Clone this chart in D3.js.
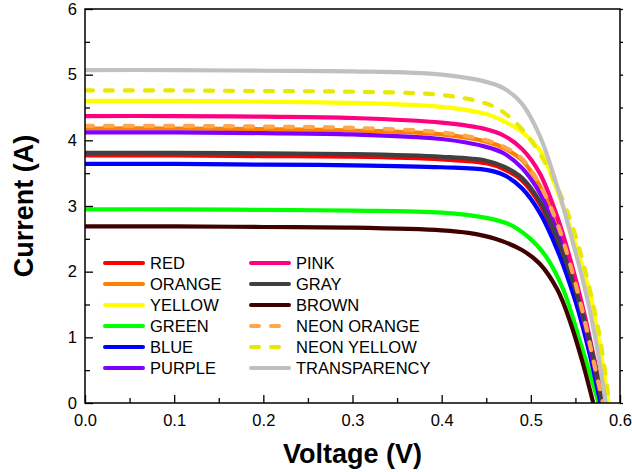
<!DOCTYPE html>
<html>
<head>
<meta charset="utf-8">
<script src="https://cdn.jsdelivr.net/npm/d3@7"></script>
<style>
  body { margin: 0; background: #fff; }
  text { font-family: Arial, "Liberation Sans", sans-serif; }
</style>
</head>
<body>
<div id="chart"></div>
<script>
// I-V curves, [voltage V, current A]
const red          = [[0,3.77],[0.1,3.77],[0.2,3.76],[0.3,3.75],[0.4,3.71],[0.45,3.65],[0.47,3.56],[0.49,3.39],[0.51,3.03],[0.53,2.45],[0.55,1.69],[0.565,0.97],[0.579,0]];
const orange       = [[0,4.18],[0.1,4.18],[0.2,4.17],[0.3,4.15],[0.4,4.09],[0.45,3.98],[0.47,3.88],[0.49,3.70],[0.51,3.31],[0.53,2.70],[0.545,2.05],[0.56,1.25],[0.57,0.64],[0.58,0]];
const yellow       = [[0,4.60],[0.1,4.60],[0.2,4.59],[0.3,4.57],[0.4,4.51],[0.45,4.40],[0.47,4.29],[0.49,4.13],[0.51,3.85],[0.53,3.22],[0.55,2.42],[0.568,1.57],[0.578,0.82],[0.587,0]];
const green        = [[0,2.95],[0.1,2.95],[0.2,2.94],[0.3,2.93],[0.4,2.90],[0.45,2.82],[0.476,2.72],[0.496,2.54],[0.516,2.25],[0.536,1.74],[0.556,0.90],[0.566,0.46],[0.576,0]];
const blue         = [[0,3.64],[0.1,3.64],[0.2,3.63],[0.3,3.62],[0.4,3.59],[0.45,3.55],[0.47,3.47],[0.49,3.27],[0.51,2.90],[0.53,2.32],[0.55,1.55],[0.565,0.80],[0.578,0]];
const purple       = [[0,4.12],[0.1,4.12],[0.2,4.11],[0.3,4.09],[0.4,4.02],[0.45,3.90],[0.47,3.80],[0.49,3.58],[0.51,3.20],[0.53,2.60],[0.545,1.98],[0.56,1.22],[0.57,0.62],[0.58,0]];
const pink         = [[0,4.37],[0.1,4.37],[0.2,4.36],[0.3,4.34],[0.4,4.27],[0.45,4.17],[0.47,4.07],[0.49,3.87],[0.51,3.50],[0.53,2.82],[0.545,2.15],[0.56,1.36],[0.57,0.74],[0.582,0]];
const gray         = [[0,3.81],[0.1,3.81],[0.2,3.80],[0.3,3.79],[0.4,3.75],[0.45,3.69],[0.47,3.60],[0.49,3.43],[0.51,3.07],[0.53,2.49],[0.55,1.73],[0.565,1.00],[0.58,0]];
const brown        = [[0,2.69],[0.1,2.69],[0.2,2.68],[0.3,2.67],[0.4,2.63],[0.43,2.59],[0.46,2.50],[0.49,2.33],[0.51,2.12],[0.53,1.72],[0.545,1.20],[0.558,0.62],[0.57,0]];
const neonOrange   = [[0,4.22],[0.1,4.22],[0.2,4.21],[0.3,4.19],[0.4,4.12],[0.45,4.00],[0.47,3.90],[0.49,3.72],[0.51,3.33],[0.53,2.72],[0.545,2.07],[0.56,1.28],[0.57,0.66],[0.581,0]];
const neonYellow   = [[0,4.76],[0.1,4.76],[0.2,4.75],[0.3,4.74],[0.4,4.69],[0.45,4.56],[0.47,4.42],[0.49,4.17],[0.51,3.80],[0.53,3.28],[0.55,2.55],[0.57,1.50],[0.58,0.78],[0.588,0]];
const transparency = [[0,5.07],[0.1,5.07],[0.2,5.06],[0.3,5.05],[0.4,5.00],[0.45,4.89],[0.47,4.79],[0.49,4.56],[0.51,4.07],[0.53,3.28],[0.545,2.55],[0.56,1.78],[0.572,1.02],[0.584,0]];

const seriesNames = ["RED", "ORANGE", "YELLOW", "GREEN", "BLUE", "PURPLE",
                     "PINK", "GRAY", "BROWN", "NEON ORANGE", "NEON YELLOW", "TRANSPARENCY"];
const seriesData = [red, orange, yellow, green, blue, purple,
                    pink, gray, brown, neonOrange, neonYellow, transparency];
const seriesColors = ["#ff0000", "#ff8000", "#ffff00", "#00ff00", "#0000ff", "#8000ff",
                      "#ff0080", "#404040", "#400000", "#ffa64d", "#e8e800", "#c0c0c0"];
const seriesDashed = [false, false, false, false, false, false,
                      false, false, false, true, true, false];

const xTicks = [0, 0.1, 0.2, 0.3, 0.4, 0.5, 0.6];
const yTicks = [0, 1, 2, 3, 4, 5, 6];

const width = 632, height = 472;
const margin = { top: 9, right: 12, bottom: 69, left: 85 };
const innerW = width - margin.left - margin.right;
const innerH = height - margin.top - margin.bottom;

const svg = d3.select("#chart").append("svg")
    .attr("width", width)
    .attr("height", height);

const g = svg.append("g")
    .attr("transform", `translate(${margin.left},${margin.top})`);

const x = d3.scaleLinear().domain([0, 0.6]).range([0, innerW]);
const y = d3.scaleLinear().domain([0, 6]).range([innerH, 0]);

g.append("clipPath").attr("id", "plotClip")
  .append("rect").attr("width", innerW).attr("height", innerH);

// curves
const line = d3.line()
    .x(d => x(d[0]))
    .y(d => y(d[1]))
    .curve(d3.curveCatmullRom.alpha(0.5));

const curves = g.append("g").attr("clip-path", "url(#plotClip)");
seriesData.forEach((data, i) => {
    curves.append("path")
        .datum(data)
        .attr("fill", "none")
        .attr("stroke", seriesColors[i])
        .attr("stroke-width", 4.2)
        .attr("stroke-linecap", seriesDashed[i] ? "round" : "butt")
        .attr("stroke-dasharray", seriesDashed[i] ? "8,12" : null)
        .attr("d", line);
});

// axes, ticks point inward
const fontSize = "16.5px";

g.append("g")
    .attr("transform", `translate(0,${innerH})`)
    .call(d3.axisBottom(x).tickValues(xTicks).tickFormat(d3.format(".1f"))
        .tickSizeInner(-8).tickSizeOuter(0).tickPadding(11));
g.append("g")
    .attr("transform", `translate(0,${innerH})`)
    .call(d3.axisBottom(x).tickValues(d3.range(0.05, 0.6, 0.1)).tickFormat("")
        .tickSizeInner(-5).tickSizeOuter(0));

g.append("g")
    .call(d3.axisLeft(y).tickValues(yTicks).tickFormat(d3.format("d"))
        .tickSizeInner(-8).tickSizeOuter(0).tickPadding(8));
g.append("g")
    .call(d3.axisLeft(y).tickValues(d3.range(0.5, 6, 1)).tickFormat("")
        .tickSizeInner(-5).tickSizeOuter(0));

// right side ticks
g.append("g")
    .attr("transform", `translate(${innerW},0)`)
    .call(d3.axisRight(y).tickValues(d3.range(0, 6.01, 0.5)).tickFormat("")
        .tickSizeInner(3).tickSizeOuter(0));

g.selectAll(".domain").remove();
g.selectAll(".tick line").attr("stroke", "#000").attr("stroke-width", 1.3);
g.selectAll(".tick text").style("font-size", fontSize).attr("fill", "#000");

// frame
g.append("rect")
    .attr("width", innerW)
    .attr("height", innerH)
    .attr("fill", "none")
    .attr("stroke", "#000")
    .attr("stroke-width", 1.5);

// axis titles
g.append("text")
    .attr("x", innerW / 2)
    .attr("y", innerH + 60)
    .attr("text-anchor", "middle")
    .style("font-size", "27px")
    .style("font-weight", "bold")
    .text("Voltage (V)");

g.append("text")
    .attr("transform", "rotate(-90)")
    .attr("x", -innerH / 2)
    .attr("y", -52)
    .attr("text-anchor", "middle")
    .style("font-size", "27px")
    .style("font-weight", "bold")
    .text("Current (A)");

// legend, two columns of six
const legend = g.append("g");
seriesNames.forEach((name, i) => {
    const col = Math.floor(i / 6), row = i % 6;
    const lx = col === 0 ? 20 : 166;
    const ly = 254 + row * 21;
    legend.append("line")
        .attr("x1", lx).attr("x2", lx + 38)
        .attr("y1", ly).attr("y2", ly)
        .attr("stroke", seriesColors[i])
        .attr("stroke-width", 4)
        .attr("stroke-linecap", "round")
        .attr("stroke-dasharray", seriesDashed[i] ? "8,12" : null);
    legend.append("text")
        .attr("x", lx + 45)
        .attr("y", ly)
        .attr("dy", "0.36em")
        .style("font-size", fontSize)
        .text(name);
});
</script>
</body>
</html>
